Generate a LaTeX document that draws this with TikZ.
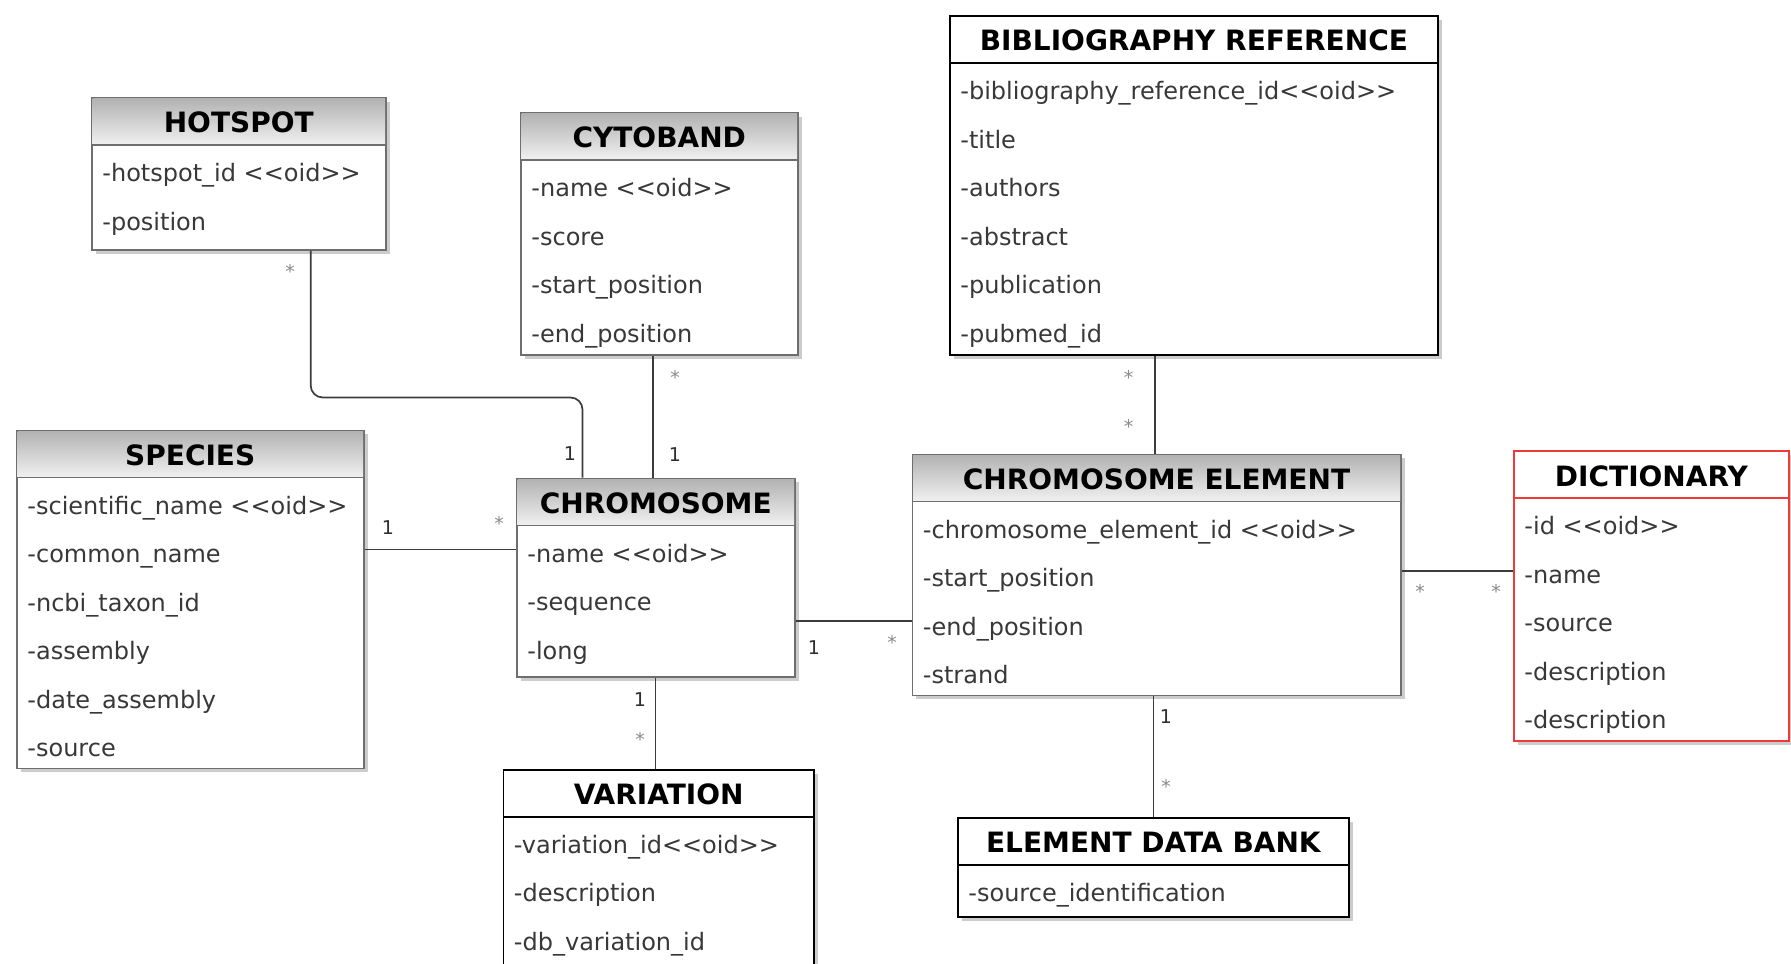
\documentclass[tikz,border=0pt]{standalone}
\usepackage{fontspec}
\setmainfont{DejaVu Sans}
\usetikzlibrary{shadows,calc}
\definecolor{bordergray}{HTML}{6E6E6E}
\definecolor{hdtop}{HTML}{B2B2B2}
\definecolor{hdbot}{HTML}{F1F1F1}
\definecolor{attrcol}{HTML}{383838}
\definecolor{linecol}{HTML}{3C3C3C}
\definecolor{onecol}{HTML}{2E2E2E}
\definecolor{starcol}{HTML}{8A8A8A}
\definecolor{redbox}{HTML}{F03A3A}
\newcommand\oid{<\kern0pt<oid>\kern0pt>}
\tikzset{
  x=0.5pt, y=-0.5pt,
  shd/.style={drop shadow={shadow xshift=2pt, shadow yshift=-2pt, fill=black!20, opacity=1}},
  boxgrad/.style={shd, fill=white, draw=bordergray, line width=0.75pt},
  boxplain/.style={shd, fill=white, draw=black, line width=0.9pt},
  boxred/.style={shd, fill=white, draw=redbox, line width=0.9pt},
  hlgrad/.style={draw=bordergray, line width=0.75pt},
  hlplain/.style={draw=black, line width=0.9pt},
  hlred/.style={draw=redbox, line width=0.9pt},
  attr/.style={anchor=base west, inner sep=0pt, font=\fontsize{12}{14}\selectfont, text=attrcol},
  ttl/.style={anchor=base, inner sep=0pt, font=\fontsize{14}{16}\selectfont\bfseries, text=black},
  one/.style={inner sep=0pt, font=\fontsize{9.5}{11}\selectfont, text=onecol},
  star/.style={inner sep=0pt, font=\fontsize{9.5}{11}\selectfont, text=starcol},
  conn/.style={draw=linecol, line width=0.85pt},
}
\newcommand\hdrgrad[1]{\shade[top color=hdtop, bottom color=hdbot]
  ([xshift=0.75pt,yshift=-0.75pt]#1.north west) rectangle ([xshift=-0.75pt,yshift=-24pt]#1.north east);}
\newcommand\hdrplain[1]{}
\newcommand\hdrred[1]{}
% #1 name, #2 left, #3 top, #4 right, #5 bottom, #6 kind (grad/plain/red), #7 title, #8 rows
\newcommand\umlcls[8]{%
  \node[box#6, anchor=north west, inner sep=0pt,
        minimum width={(#4-#2)*0.5pt}, minimum height={(#5-#3)*0.5pt}] (#1) at (#2,#3) {};
  \csname hdr#6\endcsname{#1}
  \draw[hl#6] ([yshift=-24pt]#1.north west) -- ([yshift=-24pt]#1.north east);
  \node[ttl] (#1-t) at ([yshift=-18pt]#1.north) {#7};
  \foreach \r [count=\i from 0] in {#8} {
    \node[attr] (#1-r\i) at ([xshift=5.5pt, yshift={-(74.5+48.5*\i)*0.5pt-5.1pt}]#1.north west) {\r};
  }
}
\begin{document}
\begin{tikzpicture}
\useasboundingbox (0,0) rectangle (1791,963);
\fill[white] (0,0) rectangle (1791,963);

\umlcls{hot}{91}{97}{385}{249}{grad}{HOTSPOT}{-hotspot\_id \oid, -position}
\umlcls{cyto}{520}{112}{797}{354}{grad}{CYTOBAND}{-name \oid, -score, -start\_position, -end\_position}
\umlcls{bib}{949}{15}{1437}{354}{plain}{BIBLIOGRAPHY REFERENCE}{-bibliography\_reference\_id\oid, -title, -authors, -abstract, -publication, -pubmed\_id}
\umlcls{spe}{16}{429.5}{363}{767.5}{grad}{SPECIES}{-scientific\_name \oid, -common\_name, -ncbi\_taxon\_id, -assembly, -date\_assembly, -source}
\umlcls{chr}{516}{477.5}{794}{676}{grad}{CHROMOSOME}{-name \oid, -sequence, -long}
\umlcls{ce}{911.5}{453.5}{1400}{694.5}{grad}{CHROMOSOME ELEMENT}{-chromosome\_element\_id \oid, -start\_position, -end\_position, -strand}
\umlcls{dict}{1513}{450}{1788}{740}{red}{DICTIONARY}{-id \oid, -name, -source, -description, -description}
\umlcls{var}{502.5}{768.7}{813}{1000}{plain}{VARIATION}{-variation\_id\oid, -description, -db\_variation\_id}
\umlcls{edb}{957}{816.7}{1348}{916}{plain}{ELEMENT DATA BANK}{-source\_identification}

% connectors
\coordinate (hk1) at (310.7,397.5);
\coordinate (hk2) at (582.5,397.5);
\draw[conn, rounded corners=6pt] (hot.south -| hk1) -- (hk1) -- (hk2) -- (chr.north -| hk2);
\coordinate (cx) at (653.3,0);
\draw[conn] (cyto.south -| cx) -- (chr.north -| cx);
\coordinate (sy) at (0,549.4);
\draw[conn] (spe.east |- sy) -- (chr.west |- sy);
\coordinate (cy) at (0,621);
\draw[conn] (chr.east |- cy) -- (ce.west |- cy);
\coordinate (vx) at (655.6,0);
\draw[conn] (chr.south -| vx) -- (var.north -| vx);
\coordinate (bx) at (1154.8,0);
\draw[conn] (bib.south -| bx) -- (ce.north -| bx);
\coordinate (dy) at (0,571);
\draw[conn] (ce.east |- dy) -- (dict.west |- dy);
\coordinate (ex) at (1153.6,0);
\draw[conn] (ce.south -| ex) -- (edb.north -| ex);

% multiplicities
\node[star] (m1) at (290,271) {*};
\node[one]  (m2) at (570,453.5) {1};
\node[star] (m3) at (675,377) {*};
\node[one]  (m4) at (675,454.6) {1};
\node[one]  (m5) at (388,528) {1};
\node[star] (m6) at (499,523) {*};
\node[one]  (m7) at (814,647.6) {1};
\node[star] (m8) at (892,642) {*};
\node[one]  (m9) at (640,700) {1};
\node[star] (m10) at (640,739) {*};
\node[star] (m11) at (1128.5,377) {*};
\node[star] (m12) at (1128.5,426) {*};
\node[star] (m13) at (1420,591.7) {*};
\node[star] (m14) at (1496,591.7) {*};
\node[one]  (m15) at (1166,717) {1};
\node[star] (m16) at (1166,786) {*};
\end{tikzpicture}
\end{document}
